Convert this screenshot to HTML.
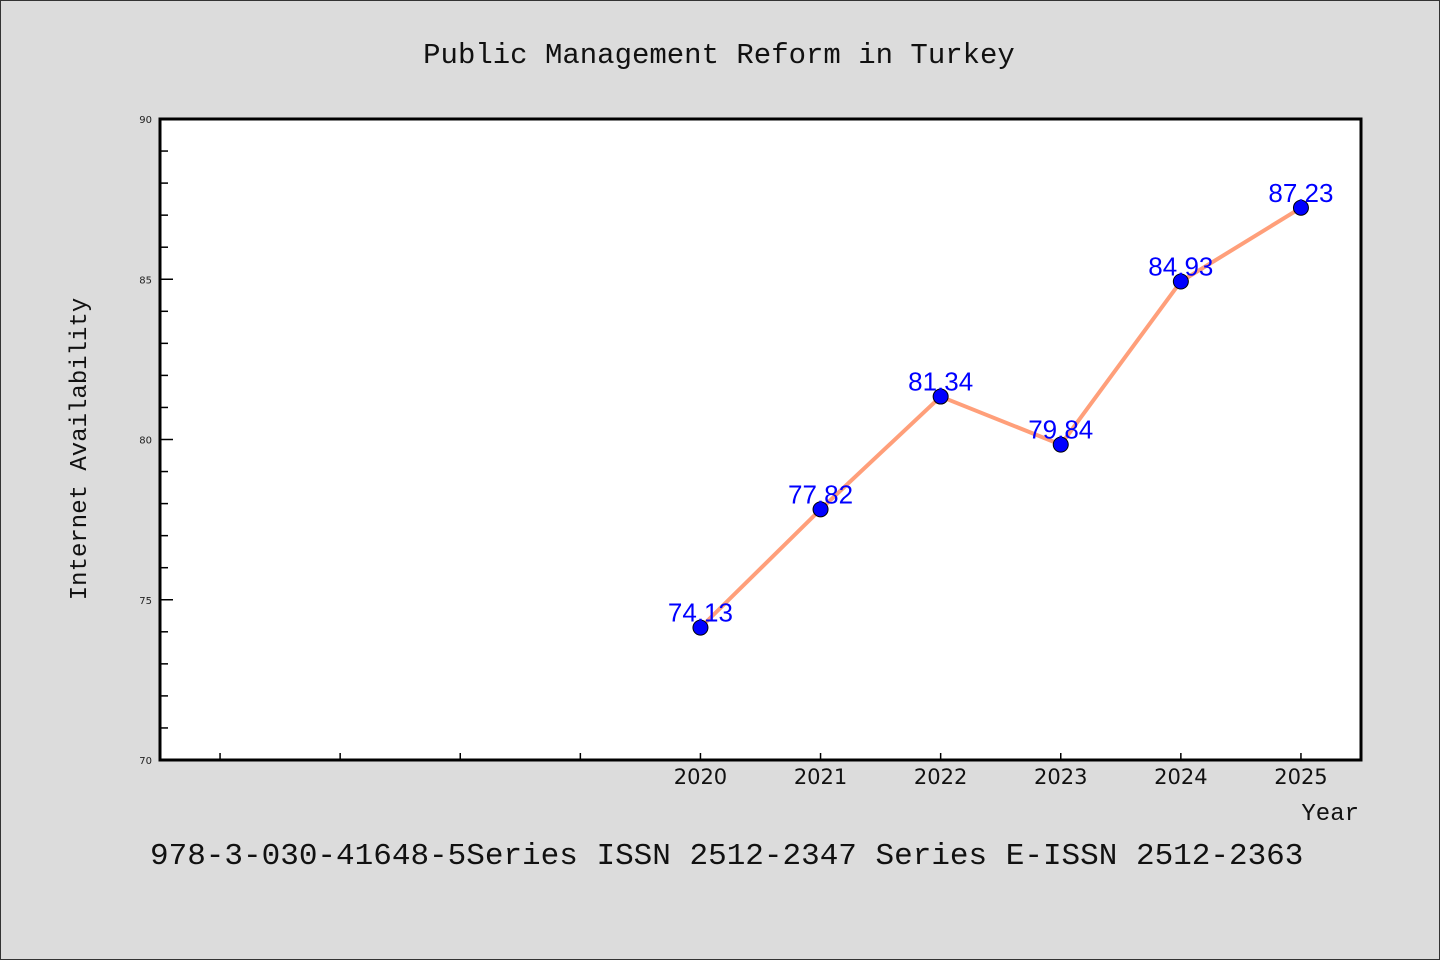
<!DOCTYPE html>
<html><head><meta charset="utf-8"><style>
html,body{margin:0;padding:0;background:#dcdcdc;}
svg{display:block;}
</style></head><body>
<svg id="chart" width="1440" height="960" xmlns="http://www.w3.org/2000/svg">
<rect x="0.5" y="0.5" width="1439" height="959" fill="#dcdcdc" stroke="#333"/>
<text x="719" y="63" text-anchor="middle" font-family="'WenQuanYi Zen Hei Mono','Liberation Mono',monospace" font-size="29" fill="#111">Public Management Reform in Turkey</text>
<rect x="160" y="119" width="1201" height="641" fill="#fff"/>
<g id="axes"></g>
<g id="series"></g>
<rect x="160" y="119" width="1201" height="641" fill="none" stroke="#000" stroke-width="3"/>
<text x="86" y="449" text-anchor="middle" transform="rotate(-90 86 449)" font-family="'WenQuanYi Zen Hei Mono','Liberation Mono',monospace" font-size="24" fill="#111">Internet Availability</text>
<text x="1359" y="820" text-anchor="end" font-family="'WenQuanYi Zen Hei Mono','Liberation Mono',monospace" font-size="24" fill="#111">Year</text>
<text x="150" y="864" font-family="'WenQuanYi Zen Hei Mono','Liberation Mono',monospace" font-size="31" fill="#111">978-3-030-41648-5Series ISSN 2512-2347 Series E-ISSN 2512-2363</text>
</svg>
<script>
const years = [2020, 2021, 2022, 2023, 2024, 2025];
const values = [74.13, 77.82, 81.34, 79.84, 84.93, 87.23];
const yTicks = [70, 75, 80, 85, 90];
const xMinorTicks = [2016, 2017, 2018, 2019];

const NS = 'http://www.w3.org/2000/svg';
const X0 = 160, X1 = 1361, Y0 = 760, Y1 = 119;
const xMin = 2015.5, xMax = 2025.5, yMin = 70, yMax = 90;
function sx(v){ return X0 + (v - xMin) / (xMax - xMin) * (X1 - X0); }
function sy(v){ return Y0 - (v - yMin) / (yMax - yMin) * (Y0 - Y1); }
function mk(tag, attrs, parent){ const e = document.createElementNS(NS, tag); for (const k in attrs) e.setAttribute(k, attrs[k]); parent.appendChild(e); return e; }

const axes = document.getElementById('axes');
for (let v = yMin; v <= yMax; v += 1) {
  const major = yTicks.includes(v);
  const t = mk('line', {x1: X0, x2: X0 + (major ? 13 : 8), y1: sy(v), y2: sy(v), stroke: '#000', 'stroke-width': 1.5}, axes);
  
  
}
yTicks.forEach(v => {
  const l = mk('text', {x: X0 - 8, y: sy(v) + 4, 'text-anchor': 'end', 'font-family': 'DejaVu Sans, sans-serif', 'font-size': 10, fill: '#222'}, axes);
  l.textContent = v;
  
  
});
xMinorTicks.concat(years).forEach(v => {
  const t = mk('line', {x1: sx(v), x2: sx(v), y1: Y0, y2: Y0 - 7, stroke: '#000', 'stroke-width': 1.5}, axes);
  
  
});
years.forEach(v => {
  const l = mk('text', {x: sx(v), y: 784, 'text-anchor': 'middle', 'font-family': 'DejaVu Sans, sans-serif', 'font-size': 21, fill: '#111'}, axes);
  l.textContent = v;
  
  
});

const series = document.getElementById('series');
const pts = years.map((y, i) => sx(y) + ',' + sy(values[i])).join(' ');
const line = mk('polyline', {points: pts, fill: 'none', stroke: '#ff9f7a', 'stroke-width': 4, 'stroke-linejoin': 'round'}, series);


years.forEach((y, i) => {
  const c = mk('circle', {cx: sx(y), cy: sy(values[i]), r: 7.5, fill: '#0000ff', stroke: '#000', 'stroke-width': 1}, series);
  
  
});
years.forEach((y, i) => {
  const t = mk('text', {x: sx(y), y: sy(values[i]) - 6, 'text-anchor': 'middle', 'font-family': 'Liberation Sans, sans-serif', 'font-size': 26, fill: '#0000ff'}, series);
  t.textContent = values[i].toFixed(2);
  
  
});
</script>
</body></html>
